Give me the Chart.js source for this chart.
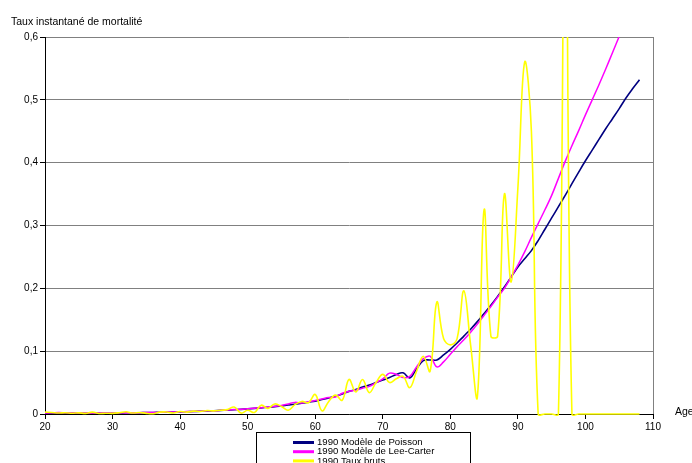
<!DOCTYPE html>
<html>
<head>
<meta charset="utf-8">
<title>Taux instantané de mortalité</title>
<script src="https://cdn.jsdelivr.net/npm/chart.js@4.4.1/dist/chart.umd.min.js"></script>
<style>
  body { margin: 0; background: #fff; overflow: hidden; }
  #wrap { position: relative; width: 692px; height: 463px; }
</style>
</head>
<body>
<div id="wrap"><canvas id="myChart" width="692" height="463"></canvas></div>
<script>
// Ages (x axis)
var ages = [20, 21, 22, 23, 24, 25, 26, 27, 28, 29,
            30, 31, 32, 33, 34, 35, 36, 37, 38, 39,
            40, 41, 42, 43, 44, 45, 46, 47, 48, 49,
            50, 51, 52, 53, 54, 55, 56, 57, 58, 59,
            60, 61, 62, 63, 64, 65, 66, 67, 68, 69,
            70, 71, 72, 73, 74, 75, 76, 77, 78, 79,
            80, 81, 82, 83, 84, 85, 86, 87, 88, 89,
            90, 91, 92, 93, 94, 95, 96, 97, 98, 99,
            100, 101, 102, 103, 104, 105, 106, 107, 108];

// 1990 Modèle de Poisson
var poisson = [0.0014, 0.0014, 0.0014, 0.0014, 0.0014, 0.0014, 0.0015, 0.0015, 0.0016, 0.0016,
               0.0017, 0.0018, 0.0019, 0.0020, 0.0021, 0.0023, 0.0025, 0.0027, 0.0029, 0.0031,
               0.0034, 0.0037, 0.0040, 0.0044, 0.0048, 0.0052, 0.0057, 0.0062, 0.0068, 0.0074,
               0.0081, 0.0089, 0.0098, 0.0108, 0.0118, 0.0130, 0.0142, 0.0155, 0.0170, 0.0188,
               0.0205, 0.0230, 0.0255, 0.0285, 0.0320, 0.0360, 0.0390, 0.0430, 0.0460, 0.0500,
               0.0540, 0.0580, 0.0630, 0.0655, 0.0575, 0.0720, 0.0850, 0.0860, 0.0860, 0.0940,
               0.1030, 0.1130, 0.1240, 0.1350, 0.1470, 0.1600, 0.1730, 0.1870, 0.2020, 0.2180,
               0.2340, 0.2470, 0.2600, 0.2760, 0.2940, 0.3120, 0.3300, 0.3480, 0.3665, 0.3850,
               0.4030, 0.4200, 0.4370, 0.4540, 0.4700, 0.4860, 0.5030, 0.5180, 0.5320];

// 1990 Modèle de Lee-Carter
var leeCarter = [0.0016, 0.0018, 0.0022, 0.0020, 0.0017, 0.0015, 0.0016, 0.0014, 0.0016, 0.0015,
                 0.0016, 0.0018, 0.0021, 0.0019, 0.0020, 0.0024, 0.0023, 0.0027, 0.0030, 0.0032,
                 0.0034, 0.0038, 0.0041, 0.0045, 0.0050, 0.0053, 0.0058, 0.0064, 0.0070, 0.0076,
                 0.0084, 0.0092, 0.0100, 0.0110, 0.0122, 0.0135, 0.0160, 0.0185, 0.0175, 0.0195,
                 0.0215, 0.0240, 0.0262, 0.0270, 0.0330, 0.0360, 0.0380, 0.0410, 0.0440, 0.0500,
                 0.0560, 0.0650, 0.0630, 0.0580, 0.0600, 0.0750, 0.0880, 0.0920, 0.0750, 0.0830,
                 0.0950, 0.1070, 0.1180, 0.1300, 0.1430, 0.1570, 0.1710, 0.1860, 0.2000, 0.2180,
                 0.2370, 0.2580, 0.2810, 0.3030, 0.3250, 0.3480, 0.3750, 0.4020, 0.4270, 0.4510,
                 0.4760, 0.5000, 0.5240, 0.5490, 0.5750, 0.6010, 0.6280, 0.6550, 0.6820];

// 1990 Taux bruts
var tauxBruts = [0.0030, 0.0025, 0.0015, 0.0020, 0.0012, 0.0018, 0.0010, 0.0030, 0.0008, 0.0012,
                 0.0010, 0.0020, 0.0035, 0.0015, 0.0025, 0.0010, 0.0005, 0.0030, 0.0032, 0.0015,
                 0.0040, 0.0030, 0.0045, 0.0040, 0.0055, 0.0050, 0.0060, 0.0070, 0.0110, 0.0015,
                 0.0060, 0.0025, 0.0140, 0.0090, 0.0160, 0.0120, 0.0060, 0.0150, 0.0200, 0.0180,
                 0.0310, 0.0050, 0.0200, 0.0300, 0.0220, 0.0550, 0.0350, 0.0550, 0.0340, 0.0500,
                 0.0630, 0.0500, 0.0560, 0.0600, 0.0420, 0.0680, 0.0920, 0.0680, 0.1780, 0.1200,
                 0.1100, 0.1200, 0.1960, 0.1100, 0.0270, 0.3250, 0.1240, 0.1240, 0.3500, 0.2100,
                 0.3600, 0.5600, 0.4500, 0, 0, 0, 0, 0.9000, 0, 0,
                 0, 0, 0, 0, 0, 0, 0, 0, 0];

var seriesNames = ["1990 Modèle de Poisson", "1990 Modèle de Lee-Carter", "1990 Taux bruts"];
var yTicks = [0, 0.1, 0.2, 0.3, 0.4, 0.5, 0.6];
var xTicks = [20, 30, 40, 50, 60, 70, 80, 90, 100, 110];
var yTitle = "Taux instantané de mortalité";
var xTitle = "Age";

// turn two arrays into {x, y} points for the linear x scale
function toPoints(values) {
    return ages.map(function (a, i) { return { x: a, y: values[i] }; });
}

var FONT = '"Liberation Sans", Arial, sans-serif';

// Titles, plot border on the right and the boxed legend (Excel style)
var excelDecor = {
    id: 'excelDecor',
    beforeDatasetsDraw: function (chart) {
        var ctx = chart.ctx, a = chart.chartArea;
        ctx.save();
        ctx.strokeStyle = '#808080';
        ctx.lineWidth = 1;
        ctx.beginPath();
        ctx.moveTo(Math.round(a.right) + 0.5, a.top);
        ctx.lineTo(Math.round(a.right) + 0.5, a.bottom);
        ctx.stroke();
        ctx.restore();
    },
    afterDraw: function (chart) {
        var ctx = chart.ctx;
        ctx.save();
        ctx.fillStyle = '#000';
        ctx.textBaseline = 'alphabetic';
        ctx.font = '10.5px ' + FONT;
        ctx.fillText(yTitle, 11, 25);
        ctx.fillText(xTitle, 675, 414.5);

        // legend box
        ctx.fillStyle = '#fff';
        ctx.fillRect(256, 432, 214, 40);
        ctx.strokeStyle = '#000';
        ctx.lineWidth = 1;
        ctx.strokeRect(256.5, 432.5, 214, 40);

        ctx.font = '9.6px ' + FONT;
        ctx.textBaseline = 'middle';
        seriesNames.forEach(function (name, i) {
            var y = 442.5 + i * 9.2;
            ctx.strokeStyle = chart.data.datasets[i].borderColor;
            ctx.lineWidth = 3;
            ctx.beginPath();
            ctx.moveTo(293, y);
            ctx.lineTo(314, y);
            ctx.stroke();
            ctx.fillStyle = '#000';
            ctx.fillText(name, 317, y);
        });
        ctx.restore();
    }
};

var ctx = document.getElementById('myChart').getContext('2d');
var chart = new Chart(ctx, {
    type: 'line',
    data: {
        datasets: [
            { label: seriesNames[0], data: toPoints(poisson), borderColor: '#000080', borderWidth: 1.6, order: 3 },
            { label: seriesNames[1], data: toPoints(leeCarter), borderColor: '#ff00ff', borderWidth: 1.5, order: 2 },
            { label: seriesNames[2], data: toPoints(tauxBruts), borderColor: '#ffff00', borderWidth: 1.6, order: 1,
              clip: { left: 2, top: 0, right: 2, bottom: 3 } }
        ]
    },
    options: {
        responsive: false,
        animation: false,
        devicePixelRatio: 1,
        layout: { padding: { left: 0, right: 39, top: 37, bottom: 29 } },
        elements: {
            point: { radius: 0 },
            line: { tension: 0.4, fill: false, capBezierPoints: false }
        },
        plugins: {
            legend: { display: false },
            tooltip: { enabled: false }
        },
        scales: {
            x: {
                type: 'linear',
                min: 20,
                max: 110,
                afterBuildTicks: function (s) { s.ticks = xTicks.map(function (v) { return { value: v }; }); },
                ticks: { color: '#000', font: { family: FONT, size: 10 }, padding: 2, maxRotation: 0, autoSkip: false },
                grid: { drawOnChartArea: false, drawTicks: true, tickLength: 5, color: '#000' },
                border: { color: '#000', width: 1 },
                afterFit: function (s) { s.height = 20; }
            },
            y: {
                min: 0,
                max: 0.6,
                afterBuildTicks: function (s) { s.ticks = yTicks.map(function (v) { return { value: v }; }); },
                ticks: {
                    color: '#000',
                    font: { family: FONT, size: 10 },
                    padding: 2,
                    callback: function (v) { return v === 0 ? '0' : v.toFixed(1).replace('.', ','); }
                },
                grid: { color: '#808080', tickColor: '#000', tickLength: 5 },
                border: { color: '#000', width: 1 },
                afterFit: function (s) { s.width = 45; }
            }
        }
    },
    plugins: [excelDecor]
});
</script>
</body>
</html>
